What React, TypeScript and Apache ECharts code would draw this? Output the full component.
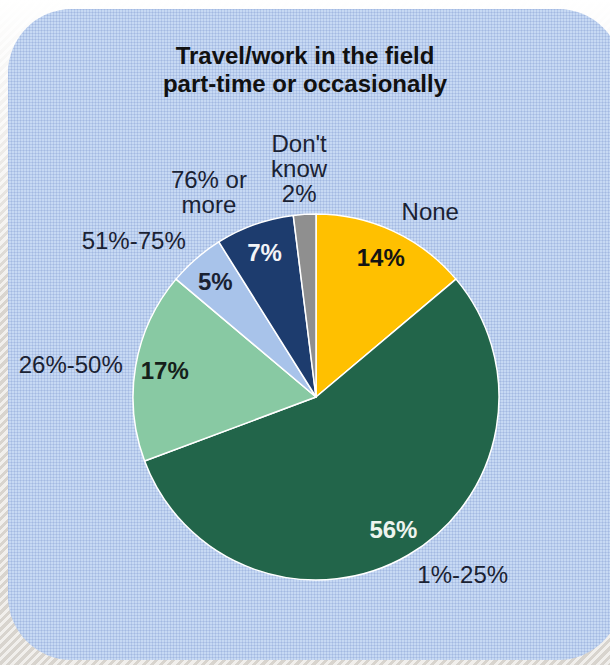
import React, { useEffect, useRef } from "react";
import * as echarts from "echarts";

const titleLines = ["Travel/work in the field", "part-time or occasionally"];
const categories = ["None", "1%-25%", "26%-50%", "51%-75%", "76% or more", "Don't know"];
const values = [14, 56, 17, 5, 7, 2];
const outsideLabelLines = [["None"], ["1%-25%"], ["26%-50%"], ["51%-75%"], ["76% or", "more"], ["Don't", "know"]];
const valueShownOutside = [false, false, false, false, false, true];
const sliceColors = ["#ffc000", "#22654a", "#88c9a3", "#a8c3ea", "#1d3c6e", "#8f8f8f"];
const insideLabelColors = ["#141414", "#eef4ee", "#15201a", "#1a2233", "#f2f4f8", "#ffffff"];

const FONT = "'Liberation Sans', Arial, Helvetica, sans-serif";
const CX = 316;
const CY = 397;
const R = 183;

export default function App() {
  const ref = useRef<HTMLDivElement>(null);

  useEffect(() => {
    if (!ref.current) return;
    const chart = echarts.init(ref.current, undefined, { renderer: "svg" });

    const mainData = categories.map((name, i) => ({
      name,
      value: values[i],
      itemStyle: { color: sliceColors[i] },
    }));

    const insideData = categories.map((name, i) => ({
      name,
      value: values[i],
      label: { show: !valueShownOutside[i], color: insideLabelColors[i] },
    }));

    const option: any = {
      animation: false,
      backgroundColor: "transparent",
      title: {
        text: titleLines.join("\n"),
        left: "center",
        top: 36,
        textStyle: {
          fontFamily: FONT,
          fontWeight: "bold",
          fontSize: 24,
          lineHeight: 28,
          color: "#111111",
        },
      },
      series: [
        {
          type: "pie",
          center: [CX, CY],
          radius: [0, R],
          startAngle: 90,
          clockwise: true,
          avoidLabelOverlap: false,
          silent: true,
          itemStyle: { borderColor: "#ffffff", borderWidth: 1.5 },
          label: {
            show: true,
            position: "outside",
            fontFamily: FONT,
            fontSize: 24,
            lineHeight: 25,
            color: "#1a2233",
            formatter: (p: any) => {
              const lines = outsideLabelLines[p.dataIndex].slice();
              if (valueShownOutside[p.dataIndex]) lines.push(p.value + "%");
              return lines.join("\n");
            },
          },
          labelLine: { show: false, length: 8, length2: 0 },
          labelLayout: (p: any) => {
            const lr = p.labelRect;
            const leftSide = lr.x + lr.width / 2 < CX;
            const anchorX = leftSide ? lr.x + lr.width : lr.x;
            const anchorY = lr.y + lr.height / 2;
            const dx = anchorX - CX;
            const dy = anchorY - CY;
            const x = Math.abs(dx) < R * 0.15 ? anchorX : lr.x + lr.width / 2;
            const va = dy < -R * 0.6 ? "bottom" : dy > R * 0.6 ? "top" : "middle";
            return { x, y: anchorY, align: "center", verticalAlign: va };
          },
          emphasis: { disabled: true },
          data: mainData,
        },
        {
          type: "pie",
          center: [CX, CY],
          radius: [118, R],
          startAngle: 90,
          clockwise: true,
          avoidLabelOverlap: false,
          silent: true,
          itemStyle: { color: "rgba(0,0,0,0)", borderWidth: 0 },
          label: {
            show: true,
            position: "inside",
            formatter: "{c}%",
            fontFamily: FONT,
            fontWeight: "bold",
            fontSize: 24,
          },
          labelLine: { show: false },
          emphasis: { disabled: true },
          data: insideData,
        },
      ],
    };

    chart.setOption(option);
    return () => chart.dispose();
  }, []);

  return (
    <div
      style={{
        position: "absolute",
        left: 0,
        top: 0,
        width: 610,
        height: 665,
        overflow: "hidden",
        backgroundColor: "#ecebe8",
        backgroundImage:
          "linear-gradient(to bottom, rgba(255,255,255,1) 0%, rgba(255,255,255,0.6) 20%, rgba(255,255,255,0) 45%), repeating-linear-gradient(135deg, #d8d4ce 0px, #d8d4ce 3px, #f1efec 3px, #f1efec 6px)",
      }}
    >
      <div
        style={{
          position: "absolute",
          left: 8,
          top: 9,
          width: 614,
          height: 651,
          borderRadius: 64,
          backgroundColor: "#c7d9f3",
          backgroundImage:
            "linear-gradient(rgba(110,140,200,0.22) 1px, transparent 1px), linear-gradient(90deg, rgba(110,140,200,0.22) 1px, transparent 1px)",
          backgroundSize: "3px 3px",
        }}
      />
      <div ref={ref} style={{ position: "absolute", left: 0, top: 0, width: 610, height: 665 }} />
    </div>
  );
}
